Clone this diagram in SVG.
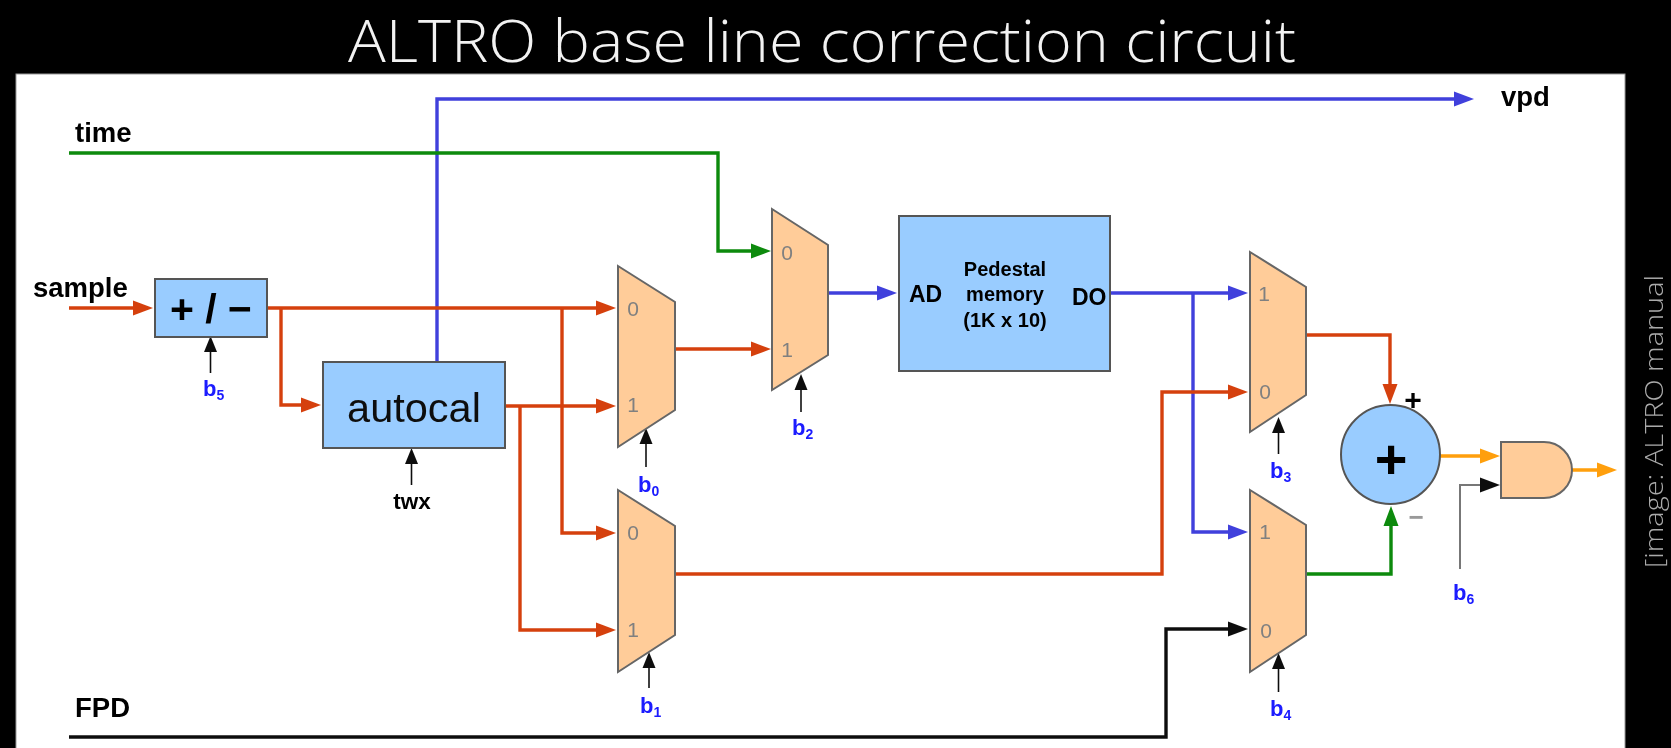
<svg xmlns="http://www.w3.org/2000/svg" width="1671" height="748" viewBox="0 0 1671 748">
<style>
text{font-family:"Liberation Sans",Arial,sans-serif}
.lbl{font-weight:bold;fill:#000}
.bit{font-weight:bold;fill:#1a1aff;font-size:22px}
.bit tspan{font-size:14px}
.pin{font-size:21px;fill:#808080;text-anchor:middle}
.box{fill:#99ccff;stroke:#555;stroke-width:2}
.mux{fill:#ffcc99;stroke:#666;stroke-width:2}
.w{fill:none;stroke-width:3.4}
.red{stroke:#d5410e}.blue{stroke:#3f3fdc}.green{stroke:#0b8a0b}.orange{stroke:#ff9f0a}.black{stroke:#111}
.ctl{fill:none;stroke:#111;stroke-width:1.6}
.thin{font-family:"Open Sans",sans-serif;font-weight:300;font-variant-ligatures:none}
</style>
<defs>
<filter id="soft" filterUnits="userSpaceOnUse" x="-10" y="-10" width="1691" height="768"><feGaussianBlur stdDeviation="0.5"/></filter>
<marker id="aR" markerUnits="userSpaceOnUse" markerWidth="20" markerHeight="16" refX="12" refY="8" orient="auto"><path d="M0,0.5L20,8L0,15.5Z" fill="#d5410e"/></marker>
<marker id="aB" markerUnits="userSpaceOnUse" markerWidth="20" markerHeight="16" refX="12" refY="8" orient="auto"><path d="M0,0.5L20,8L0,15.5Z" fill="#3f3fdc"/></marker>
<marker id="aG" markerUnits="userSpaceOnUse" markerWidth="20" markerHeight="16" refX="12" refY="8" orient="auto"><path d="M0,0.5L20,8L0,15.5Z" fill="#0b8a0b"/></marker>
<marker id="aO" markerUnits="userSpaceOnUse" markerWidth="20" markerHeight="16" refX="12" refY="8" orient="auto"><path d="M0,0.5L20,8L0,15.5Z" fill="#ff9f0a"/></marker>
<marker id="aK" markerUnits="userSpaceOnUse" markerWidth="20" markerHeight="16" refX="12" refY="8" orient="auto"><path d="M0,0.5L20,8L0,15.5Z" fill="#111"/></marker>
<marker id="aC" markerUnits="userSpaceOnUse" markerWidth="16" markerHeight="14" refX="9" refY="7" orient="auto"><path d="M0,0.5L16,7L0,13.5Z" fill="#111"/></marker>
</defs>
<g filter="url(#soft)">
<rect x="-10" y="-10" width="1691" height="768" fill="#000"/>
<rect x="16" y="74" width="1609" height="684" fill="#fff" stroke="#999" stroke-width="1"/>
<text id="title" class="thin" x="348" y="62" font-size="58" fill="#f2f2f2" textLength="948" lengthAdjust="spacingAndGlyphs">ALTRO base line correction circuit</text>
<text id="credit" class="thin" transform="translate(1663,568) rotate(-90)" font-size="25" fill="#aaa" textLength="293" lengthAdjust="spacingAndGlyphs">[image: ALTRO manual</text>

<g id="connectors">
<path class="w blue" d="M437,365V99H1466" marker-end="url(#aB)"/>
<path class="w green" d="M69,153H718V251H763" marker-end="url(#aG)"/>
<path class="w red" d="M69,308H145" marker-end="url(#aR)"/>
<path class="w red" d="M267,308H608" marker-end="url(#aR)"/>
<path class="w red" d="M281,308V405H313" marker-end="url(#aR)"/>
<path class="w red" d="M562,308V533H608" marker-end="url(#aR)"/>
<path class="w red" d="M505,406H608" marker-end="url(#aR)"/>
<path class="w red" d="M520,406V630H608" marker-end="url(#aR)"/>
<path class="w red" d="M675,349H763" marker-end="url(#aR)"/>
<path class="w blue" d="M828,293H889" marker-end="url(#aB)"/>
<path class="w blue" d="M1110,293H1240" marker-end="url(#aB)"/>
<path class="w blue" d="M1193,293V532H1240" marker-end="url(#aB)"/>
<path class="w red" d="M675,574H1162V392H1240" marker-end="url(#aR)"/>
<path class="w red" d="M1305,335H1390V396" marker-end="url(#aR)"/>
<path class="w green" d="M1306,574H1391V514" marker-end="url(#aG)"/>
<path class="w black" d="M69,737H1166V629H1240" marker-end="url(#aK)"/>
<path class="w orange" d="M1440,456H1492" marker-end="url(#aO)"/>
<path class="w orange" d="M1572,470H1609" marker-end="url(#aO)"/>
<path fill="none" stroke="#777" stroke-width="2" d="M1460,569V485H1492" marker-end="url(#aK)"/>
<path class="ctl" d="M210.500,373V343" marker-end="url(#aC)"/>
<path class="ctl" d="M411.500,485V455" marker-end="url(#aC)"/>
<path class="ctl" d="M646,467V435" marker-end="url(#aC)"/>
<path class="ctl" d="M649,688V659" marker-end="url(#aC)"/>
<path class="ctl" d="M801,412V381" marker-end="url(#aC)"/>
<path class="ctl" d="M1278.500,454V424" marker-end="url(#aC)"/>
<path class="ctl" d="M1278.500,692V660" marker-end="url(#aC)"/>
</g>

<g id="addsub"><rect class="box" x="155" y="279" width="112" height="58"/><text x="211" y="323" font-size="41" font-weight="bold" text-anchor="middle" fill="#000">+ / −</text></g>
<g id="autocal"><rect class="box" x="323" y="362" width="182" height="86"/><text x="414" y="422" font-size="41.500" text-anchor="middle" fill="#111">autocal</text></g>
<g id="memory"><rect class="box" x="899" y="216" width="211" height="155"/>
<text x="1005" y="276" font-size="20" class="lbl" text-anchor="middle">Pedestal</text>
<text x="1005" y="301" font-size="20" class="lbl" text-anchor="middle">memory</text>
<text x="1005" y="327" font-size="20" class="lbl" text-anchor="middle">(1K x 10)</text>
<text x="909" y="302" font-size="23" class="lbl">AD</text>
<text x="1072" y="305" font-size="23" class="lbl">DO</text></g>

<g id="mux-b0"><path class="mux" d="M618,266L675,302V410L618,447Z"/><text class="pin" x="633" y="316">0</text><text class="pin" x="633" y="412">1</text></g>
<g id="mux-b1"><path class="mux" d="M618,490L675,526V635L618,672Z"/><text class="pin" x="633" y="540">0</text><text class="pin" x="633" y="637">1</text></g>
<g id="mux-b2"><path class="mux" d="M772,209L828,245V355L772,390Z"/><text class="pin" x="787" y="260">0</text><text class="pin" x="787" y="357">1</text></g>
<g id="mux-b3"><path class="mux" d="M1250,252L1306,287V395L1250,432Z"/><text class="pin" x="1264" y="301">1</text><text class="pin" x="1265" y="399">0</text></g>
<g id="mux-b4"><path class="mux" d="M1250,490L1306,525V635L1250,672Z"/><text class="pin" x="1265" y="539">1</text><text class="pin" x="1266" y="638">0</text></g>

<g id="adder"><circle class="box" cx="1390.500" cy="454.500" r="49.500"/><text x="1391" y="478" font-size="56" font-weight="bold" text-anchor="middle" fill="#000">+</text></g>
<g id="and-gate"><path class="mux" d="M1501,442H1544A28,28 0 0 1 1544,498H1501Z"/></g>

<g id="labels">
<text class="lbl" x="75" y="142" font-size="27.500">time</text>
<text class="lbl" x="33" y="297" font-size="27.500">sample</text>
<text class="lbl" x="75" y="717" font-size="27.500">FPD</text>
<text class="lbl" x="1501" y="106" font-size="27.500">vpd</text>
<text class="lbl" x="412" y="509" font-size="22.500" text-anchor="middle">twx</text>
<text class="lbl" x="1413" y="410" font-size="30" text-anchor="middle">+</text>
<text x="1416" y="526" font-size="26" font-weight="bold" fill="#999" text-anchor="middle">−</text>
<text class="bit" x="203" y="396">b<tspan dy="4">5</tspan></text>
<text class="bit" x="638" y="492">b<tspan dy="4">0</tspan></text>
<text class="bit" x="640" y="713">b<tspan dy="4">1</tspan></text>
<text class="bit" x="792" y="435">b<tspan dy="4">2</tspan></text>
<text class="bit" x="1270" y="478">b<tspan dy="4">3</tspan></text>
<text class="bit" x="1270" y="716">b<tspan dy="4">4</tspan></text>
<text class="bit" x="1453" y="600">b<tspan dy="4">6</tspan></text>
</g>
</g>
</svg>
